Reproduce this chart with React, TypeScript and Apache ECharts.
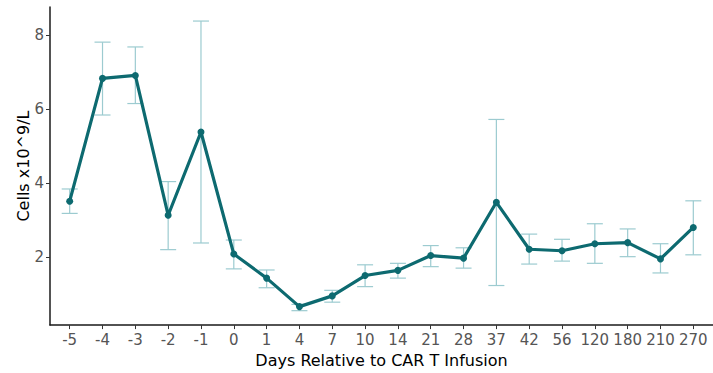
import React, { useEffect, useRef } from "react";
import * as echarts from "echarts";

const categories = ["-5", "-4", "-3", "-2", "-1", "0", "1", "4", "7", "10", "14", "21", "28", "37", "42", "56", "120", "180", "210", "270"];
const means = [3.51, 6.83, 6.91, 3.13, 5.38, 2.08, 1.43, 0.66, 0.95, 1.5, 1.64, 2.04, 1.97, 3.48, 2.21, 2.17, 2.36, 2.39, 1.95, 2.8];
const upper = [3.84, 7.81, 7.68, 4.04, 8.38, 2.46, 1.65, 0.72, 1.1, 1.79, 1.83, 2.31, 2.25, 5.72, 2.62, 2.48, 2.9, 2.76, 2.36, 3.52];
const lower = [3.18, 5.84, 6.15, 2.2, 2.38, 1.68, 1.17, 0.55, 0.78, 1.2, 1.43, 1.74, 1.7, 1.23, 1.81, 1.89, 1.83, 2.01, 1.57, 2.06];
const yTicks = [2, 4, 6, 8];

export default function App() {
  const ref = useRef<HTMLDivElement>(null);
  useEffect(() => {
    if (!ref.current) return;
    const chart = echarts.init(ref.current, null, { renderer: "svg" });
    const idx = categories.map((_, i) => i);
    const lineColor = "#0d6a70";
    const errColor = "#9ccbd0";
    chart.setOption({
      animation: false,
      backgroundColor: "#ffffff",
      textStyle: { fontFamily: "DejaVu Sans" },
      grid: { left: 50, top: 7, width: 668, height: 323, containLabel: false },
      xAxis: {
        type: "value",
        min: -0.6,
        max: categories.length - 1 + 0.6,
        splitLine: { show: false },
        axisLine: { show: true, onZero: false, lineStyle: { color: "#1a1a1a", width: 1.5 } },
        axisTick: { show: true, customValues: idx, length: 4, lineStyle: { color: "#333333" } },
        axisLabel: {
          customValues: idx,
          formatter: (v: number) => categories[Math.round(v)] ?? "",
          color: "#555555",
          fontSize: 15,
          margin: 7,
          fontFamily: "DejaVu Sans",
        },
        name: "Days Relative to CAR T Infusion",
        nameLocation: "middle",
        nameGap: 26,
        nameTextStyle: { color: "#000000", fontSize: 16, fontFamily: "DejaVu Sans" },
      },
      yAxis: {
        type: "value",
        min: 0.16,
        max: 8.76,
        splitLine: { show: false },
        axisLine: { show: true, onZero: false, lineStyle: { color: "#1a1a1a", width: 1.5 } },
        axisTick: { show: true, customValues: yTicks, length: 4, lineStyle: { color: "#333333" } },
        axisLabel: {
          customValues: yTicks,
          color: "#555555",
          fontSize: 15,
          margin: 6,
          fontFamily: "DejaVu Sans",
        },
        name: "Cells x10^9/L",
        nameLocation: "middle",
        nameGap: 19,
        nameMoveOverlap: false,
        nameTextStyle: { color: "#000000", fontSize: 16, fontFamily: "DejaVu Sans" },
      },
      series: [
        {
          type: "custom",
          z: 1,
          data: idx.map((i) => [i, lower[i], upper[i]]),
          renderItem: (params: any, api: any) => {
            const x = api.value(0);
            const lo = api.coord([x, api.value(1)]);
            const hi = api.coord([x, api.value(2)]);
            const hw = 8;
            const style = { stroke: errColor, lineWidth: 1.2, fill: "none" };
            return {
              type: "group",
              children: [
                { type: "line", shape: { x1: hi[0], y1: hi[1], x2: lo[0], y2: lo[1] }, style },
                { type: "line", shape: { x1: hi[0] - hw, y1: hi[1], x2: hi[0] + hw, y2: hi[1] }, style },
                { type: "line", shape: { x1: lo[0] - hw, y1: lo[1], x2: lo[0] + hw, y2: lo[1] }, style },
              ],
            };
          },
        },
        {
          type: "line",
          z: 3,
          data: idx.map((i) => [i, means[i]]),
          symbol: "circle",
          symbolSize: 7,
          lineStyle: { color: lineColor, width: 3.2 },
          itemStyle: { color: lineColor },
        },
      ],
    });
    return () => chart.dispose();
  }, []);
  return (
    <div
      ref={ref}
      style={{ position: "fixed", left: 0, top: 0, width: 713, height: 373, background: "#fff" }}
    />
  );
}
